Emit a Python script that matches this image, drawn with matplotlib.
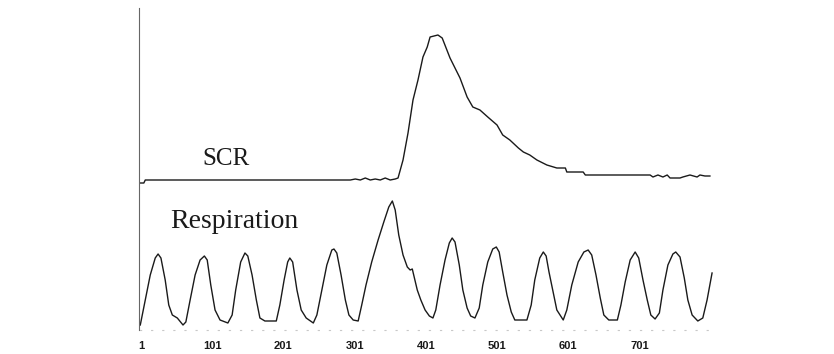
import matplotlib.pyplot as plt

# sample index (x) and amplitude (arbitrary units)
scr_x = [0, 5, 7, 295, 302, 309, 316, 323, 330, 337, 344, 351, 358, 362, 369, 376,
         383, 390, 397, 403, 407, 418, 424, 435, 449, 459, 467, 477, 488, 501, 509,
         519, 531, 538, 547, 557, 571, 585, 597, 599, 622, 625, 716, 720, 727, 734,
         740, 744, 758, 762, 772, 782, 786, 793, 800]
scr_y = [147, 147, 150, 150, 151, 150, 152, 150, 151, 150, 152, 150, 151, 152, 170, 197,
         230, 250, 273, 283, 293, 295, 292, 272, 252, 233, 223, 220, 213, 205, 195,
         190, 182, 178, 175, 170, 165, 162, 162, 158, 158, 155, 155, 153, 155, 153,
         155, 152, 152, 153, 155, 153, 155, 154, 154]

resp_x = [0, 7, 14, 21, 25, 29, 35, 40, 45, 52, 60, 64, 70, 77, 84, 90, 94, 99, 105,
          112, 123, 129, 134, 141, 147, 151, 157, 163, 168, 175, 191, 196, 202, 207,
          210, 214, 220, 226, 233, 243, 248, 255, 262, 269, 272, 276, 282, 288, 293,
          299, 306, 311, 317, 325, 334, 342, 349, 354, 358, 363, 369, 375, 379, 382,
          384, 389, 394, 400, 406, 411, 415, 421, 428, 434, 438, 442, 448, 453, 459,
          464, 470, 476, 481, 488, 495, 500, 504, 509, 515, 521, 526, 543, 549, 554,
          561, 566, 570, 574, 580, 585, 594, 599, 606, 615, 623, 629, 634, 640, 646,
          651, 658, 670, 675, 681, 688, 695, 700, 706, 712, 717, 723, 729, 734, 741,
          748, 752, 758, 764, 769, 775, 783, 790, 796, 803]
resp_y = [5, 30, 55, 72, 76, 72, 50, 25, 15, 12, 5, 8, 30, 55, 70, 74, 70, 45, 20,
          10, 7, 15, 40, 68, 77, 74, 55, 30, 12, 9, 9, 25, 50, 68,
          72, 68, 40, 20, 12, 7, 15, 40, 65, 80, 81, 77, 55, 30, 15,
          10, 9, 25, 45, 68, 90, 108, 123, 129, 120, 95, 75, 63, 60, 61,
          55, 40, 30, 20, 14, 12, 20, 45, 70, 87, 92, 88, 65, 40, 22,
          14, 12, 22, 45, 68, 81, 83, 78, 58, 35, 18, 10, 10, 25, 50,
          72, 78, 74, 58, 37, 20, 10, 20, 45, 68, 78, 80, 75, 55, 32,
          15, 10, 10, 25, 48, 70, 78, 72, 50, 30, 15, 11, 17, 40, 65,
          76, 78, 73, 52, 30, 15, 9, 12, 30, 57]

tick_pos = [1, 101, 201, 301, 401, 501, 601, 701]
tick_labels = ['1', '101', '201', '301', '401', '501', '601', '701']

INK = '#1a1a1a'

fig = plt.figure(figsize=(8.34, 3.54), dpi=100)
ax = fig.add_axes([139 / 834, 24 / 354, 591 / 834, 330 / 354])

ax.plot(scr_x, scr_y, color=INK, lw=1.0)
ax.plot(resp_x, resp_y, color=INK, lw=1.0)

ax.text(87, 165, 'SCR', family='Liberation Serif', fontsize=18, color=INK, va='baseline')
ax.text(42, 102, 'Respiration', family='Liberation Serif', fontsize=20, color=INK,
        va='baseline')

ax.set_xlim(-1.8, 828.2)
ax.set_ylim(0, 330)

for side in ['top', 'right']:
    ax.spines[side].set_visible(False)
ax.spines['left'].set_color('#666666')
ax.spines['left'].set_linewidth(0.8)
ax.spines['left'].set_bounds(0, 322)
ax.spines['bottom'].set_color('#c8c8c8')
ax.spines['bottom'].set_linewidth(0.8)
ax.spines['bottom'].set_linestyle((0, (1, 9)))
ax.spines['bottom'].set_bounds(0, 800)

ax.set_yticks([])
ax.set_xticks(tick_pos)
ax.set_xticklabels(tick_labels, family='Liberation Sans', fontweight='bold', fontsize=8)
ax.tick_params(axis='x', length=0, pad=8, colors=INK)

fig.savefig('out.png', dpi=100)
